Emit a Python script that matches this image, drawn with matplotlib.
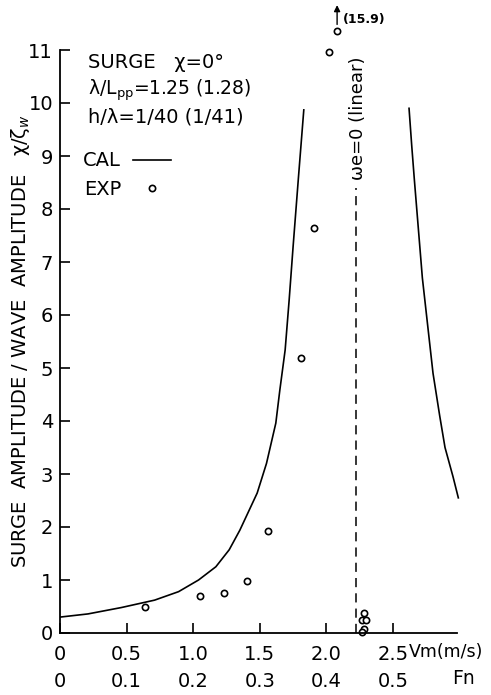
import matplotlib
matplotlib.use("Agg")
import matplotlib.pyplot as plt
from matplotlib.lines import Line2D

plt.rcParams.update({"font.family": "DejaVu Sans", "font.size": 14,
                     "mathtext.fontset": "dejavusans"})

# calculated surge response (two branches either side of we=0)
cal_left_vm = [0, 0.21, 0.46, 0.71, 0.89, 1.04, 1.17, 1.27, 1.35, 1.48, 1.55, 1.62,
               1.65, 1.69, 1.72, 1.75, 1.79, 1.83]
cal_left_amp = [0.30, 0.36, 0.48, 0.62, 0.78, 1.0, 1.25, 1.57, 1.94, 2.64, 3.20, 3.96,
                4.58, 5.34, 6.28, 7.3, 8.6, 9.87]
cal_right_vm = [2.62, 2.64, 2.66, 2.72, 2.80, 2.85, 2.89, 2.95, 2.99]
cal_right_amp = [9.9, 9.2, 8.55, 6.7, 4.9, 4.1, 3.5, 2.95, 2.55]

# experiment
exp_vm = [0.64, 1.05, 1.23, 1.40, 1.56, 1.81, 1.91, 2.02, 2.28, 2.27, 2.30, 2.28, 2.27]
exp_amp = [0.49, 0.70, 0.75, 0.98, 1.93, 5.18, 7.65, 10.96, 0.37, 0.25, 0.25, 0.07, 0.02]
# off-scale point (true value 15.9), drawn just above the frame
off_vm = 2.08
off_plot_amp = 11.35
off_label = "(15.9)"

we0_vm = 2.22
we0_top = 8.4

vm_ticks = [0, 0.5, 1.0, 1.5, 2.0, 2.5]
vm_labels = ["0", "0.5", "1.0", "1.5", "2.0", "2.5"]
fn_ticks = [0, 0.1, 0.2, 0.3, 0.4, 0.5]
fn_labels = ["0", "0.1", "0.2", "0.3", "0.4", "0.5"]
amp_ticks = list(range(0, 12))

fig = plt.figure(figsize=(4.91, 6.95), dpi=100)
ax = fig.add_axes([60 / 491, 62 / 695, 397 / 491, 583 / 695])

ax.plot(cal_left_vm, cal_left_amp, color="black", lw=1.2)
ax.plot(cal_right_vm, cal_right_amp, color="black", lw=1.2, clip_on=False)
ax.plot(exp_vm, exp_amp, "o", ms=4.5, mfc="white", mec="black", mew=1.2, clip_on=False)
ax.plot([off_vm], [off_plot_amp], "o", ms=4.5, mfc="white", mec="black", mew=1.2, clip_on=False)
ax.annotate("", xy=(off_vm, off_plot_amp + 0.55), xytext=(off_vm, off_plot_amp + 0.08),
            arrowprops=dict(arrowstyle="-|>", color="black", lw=1.0, mutation_scale=9),
            annotation_clip=False)
ax.annotate(off_label, xy=(off_vm, off_plot_amp), xytext=(6, 12), textcoords="offset pixels",
            fontsize=9, fontweight="bold", ha="left", va="center", annotation_clip=False)

ax.vlines(we0_vm, 0, we0_top, colors="black", linestyles=(0, (6, 4)), lw=1.1)
ax.text(we0_vm + 0.02, 9.72, "ωe=0 (linear)", rotation=90, ha="center", va="center", fontsize=13)

ax.set_xlim(0, 2.98)
ax.set_ylim(0, 11)
ax.set_xticks(vm_ticks)
ax.set_xticklabels(vm_labels)
ax.set_yticks(amp_ticks)
ax.spines["top"].set_visible(False)
ax.spines["right"].set_visible(False)
ax.spines["left"].set_linewidth(1.3)
ax.spines["bottom"].set_linewidth(1.3)
ax.tick_params(direction="in", length=7, width=1.2, labelsize=14)
ax.tick_params(axis="x", pad=9)
ax.tick_params(axis="y", pad=5)

sec = ax.secondary_xaxis("bottom", functions=(lambda v: v / 5, lambda f: f * 5))
sec.set_xticks(fn_ticks)
sec.set_xticklabels(fn_labels)
sec.spines["bottom"].set_visible(False)
sec.tick_params(length=0, pad=28, labelsize=14)

ax.annotate("Vm(m/s)", xy=(2.62, 0), xycoords=("data", "axes fraction"),
            xytext=(0, -19), textcoords="offset pixels", ha="left", va="center",
            fontsize=12.5, annotation_clip=False)
ax.annotate("Fn", xy=(2.94, 0), xycoords=("data", "axes fraction"),
            xytext=(0, -46), textcoords="offset pixels", ha="left", va="center",
            fontsize=13.5, annotation_clip=False)

ax.set_ylabel("SURGE  AMPLITUDE / WAVE  AMPLITUDE   χ/ζ$_w$", fontsize=14)
ax.yaxis.set_label_coords(-0.07, 0.5)

ax.text(0.07, 0.978, "SURGE   χ=0°", transform=ax.transAxes, ha="left", va="center", fontsize=14)
ax.text(0.07, 0.931, "λ/L$_\\mathrm{pp}$=1.25 (1.28)", transform=ax.transAxes,
        ha="left", va="center", fontsize=13.5)
ax.text(0.07, 0.885, "h/λ=1/40 (1/41)", transform=ax.transAxes, ha="left", va="center", fontsize=14)

handles = [Line2D([], [], color="black", lw=1.2),
           Line2D([], [], ls="none", marker="o", ms=4.5, mfc="white", mec="black", mew=1.2)]
ax.legend(handles, ["CAL", "EXP"], loc="upper left", bbox_to_anchor=(0.058, 0.826),
          frameon=False, markerfirst=False, borderpad=0, borderaxespad=0,
          handlelength=2.0, handletextpad=0.6, labelspacing=0.5, fontsize=14)

fig.savefig("out.png", dpi=100)
